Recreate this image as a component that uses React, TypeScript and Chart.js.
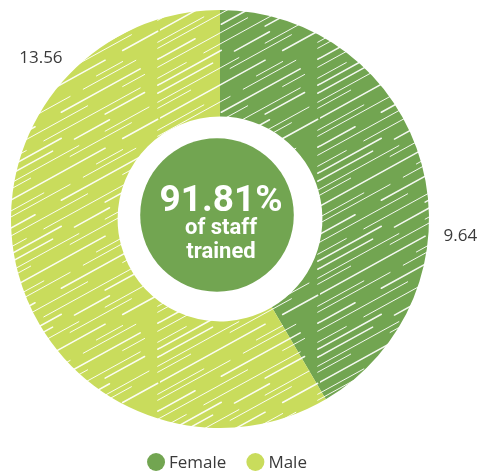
import { useEffect, useRef } from 'react';
import { Chart, registerables } from 'chart.js';

Chart.register(...registerables);

const categories = ['Female', 'Male'];
const staffValues = [9.64, 13.56];
const valueLabels = ['9.64', '13.56'];
const sliceColors = ['#72a551', '#c9dc5c'];
const centerLines = ['91.81%', 'of staff', 'trained'];

// white hatch strokes over a flat fill, to fake the crayon look
function sketchPattern(color: string) {
  const w = 160;
  const h = 88;
  const c = document.createElement('canvas');
  c.width = w;
  c.height = h;
  const g = c.getContext('2d')!;
  g.fillStyle = color;
  g.fillRect(0, 0, w, h);
  g.strokeStyle = 'rgba(255,255,255,0.92)';
  g.lineCap = 'round';
  const offsets = [4, 13, 19, 30, 41, 47, 58, 66, 77, 84];
  const dashes = [
    [60, 25, 40, 55], [90, 30, 50, 10], [35, 45, 70, 30], [120, 20, 40, 40], [50, 60, 30, 40],
    [80, 15, 60, 25], [40, 30, 90, 20], [100, 40, 25, 15], [30, 20, 110, 20], [70, 50, 45, 15],
  ];
  offsets.forEach((o, i) => {
    g.lineWidth = i % 3 === 0 ? 1.5 : 1;
    g.setLineDash(dashes[i]);
    for (const c0 of [o, o + h]) {
      g.beginPath();
      g.moveTo(0, c0);
      g.lineTo(w, c0 - h);
      g.stroke();
    }
  });
  return g.createPattern(c, 'repeat')!;
}

const sketchPlugin = {
  id: 'sketchExtras',
  afterDraw(chart: Chart) {
    const { ctx } = chart;
    const meta = chart.getDatasetMeta(0);
    const arc: any = meta.data[0];
    if (!arc) return;
    const { x, y, innerRadius, outerRadius } = arc.getProps(['x', 'y', 'innerRadius', 'outerRadius'], true);
    ctx.save();

    // center disc
    ctx.fillStyle = sliceColors[0];
    ctx.beginPath();
    ctx.arc(x - 3, y - 4, innerRadius * 0.75, 0, Math.PI * 2);
    ctx.fill();

    ctx.fillStyle = '#ffffff';
    ctx.textAlign = 'center';
    ctx.textBaseline = 'alphabetic';
    ctx.font = 'bold 37px Roboto';
    ctx.fillText(centerLines[0], x + 1, y - 8);
    ctx.font = 'bold 22px Roboto';
    ctx.fillText(centerLines[1], x + 1, y + 15);
    ctx.fillText(centerLines[2], x + 1, y + 39);

    // outside value labels
    const angles = [94, 312];
    ctx.fillStyle = '#3a3a3a';
    ctx.font = '17px "Open Sans"';
    ctx.textBaseline = 'middle';
    valueLabels.forEach((t, i) => {
      const a = ((angles[i] - 90) * Math.PI) / 180;
      const r = outerRadius + 32;
      ctx.fillText(t, x + r * Math.cos(a), y + r * Math.sin(a));
    });

    // legend
    ctx.font = '17px "Open Sans"';
    ctx.textAlign = 'left';
    const dot = 9;
    const gap = 4;
    const itemGap = 20;
    const widths = categories.map((c) => dot * 2 + gap + ctx.measureText(c).width);
    const total = widths.reduce((s, w) => s + w, 0) + itemGap * (categories.length - 1);
    let lx = x + 7 - total / 2;
    const ly = chart.height - 9;
    categories.forEach((c, i) => {
      ctx.fillStyle = sliceColors[i];
      ctx.beginPath();
      ctx.arc(lx + dot, ly, dot, 0, Math.PI * 2);
      ctx.fill();
      ctx.fillStyle = '#3a3a3a';
      ctx.fillText(c, lx + dot * 2 + gap, ly + 1);
      lx += widths[i] + itemGap;
    });
    ctx.restore();
  },
};

export default function App() {
  const canvasRef = useRef<HTMLCanvasElement | null>(null);

  useEffect(() => {
    document.body.style.margin = '0';
    if (!canvasRef.current) return;
    const chart = new Chart(canvasRef.current, {
      type: 'doughnut',
      data: {
        labels: categories,
        datasets: [
          {
            data: staffValues,
            backgroundColor: sliceColors.map(sketchPattern),
            borderWidth: 0,
          },
        ],
      },
      options: {
        animation: false,
        responsive: true,
        maintainAspectRatio: false,
        cutout: '49%',
        layout: { padding: { top: 10, bottom: 43, left: 11, right: 53 } },
        plugins: {
          legend: { display: false },
          tooltip: { enabled: false },
        },
      },
      plugins: [sketchPlugin],
    } as any);
    return () => chart.destroy();
  }, []);

  return (
    <div style={{ width: 482, height: 471, position: 'relative', background: '#fff' }}>
      <canvas ref={canvasRef} />
    </div>
  );
}
